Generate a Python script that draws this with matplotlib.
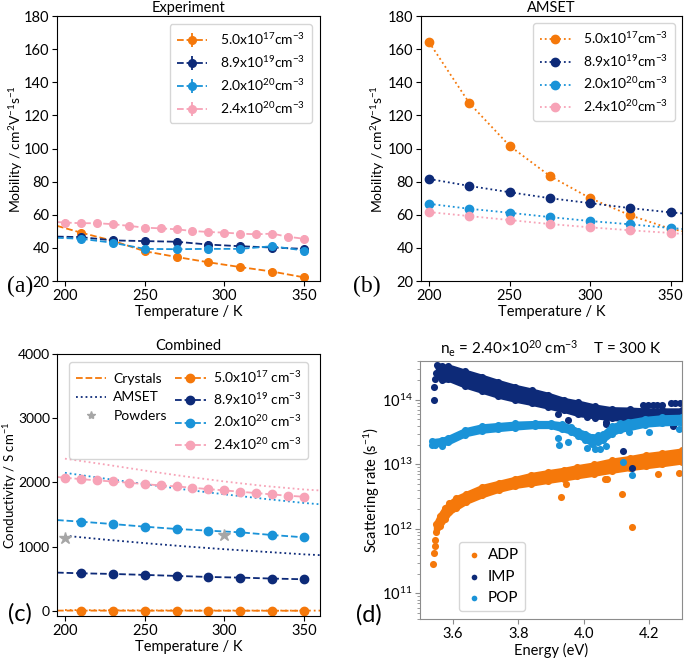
import matplotlib

matplotlib.use("Agg")
import matplotlib.pyplot as plt
from matplotlib.lines import Line2D

plt.rcParams["font.family"] = ["Lato", "DejaVu Sans"]
plt.rcParams["mathtext.fontset"] = "custom"
plt.rcParams["mathtext.rm"] = "Lato"
plt.rcParams["mathtext.it"] = "Lato:italic"
plt.rcParams["font.size"] = 10.5

ORANGE = "#f5780a"
NAVY = "#0d2a78"
LBLUE = "#1a93d8"
PINK = "#f7a3b7"
GREY = "#a6a6a6"

LABELS = ["5.0x10$^{17}$cm$^{-3}$", "8.9x10$^{19}$cm$^{-3}$",
          "2.0x10$^{20}$cm$^{-3}$", "2.4x10$^{20}$cm$^{-3}$"]
LABELS_C = ["5.0x10$^{17}$ cm$^{-3}$", "8.9x10$^{19}$ cm$^{-3}$",
            "2.0x10$^{20}$ cm$^{-3}$", "2.4x10$^{20}$ cm$^{-3}$"]
COLORS = [ORANGE, NAVY, LBLUE, PINK]

# ---- (a) experiment mobility ----
T_line_start = 195
T_exp = [210, 230, 250, 270, 290, 310, 330, 350]
T_exp_pink = [200, 210, 220, 230, 240, 250, 260, 270, 280, 290, 300, 310, 320, 330, 340, 350]
mu_exp_orange = [49.2, 44.3, 38.0, 34.5, 31.3, 28.4, 25.7, 22.2]
mu_exp_navy = [46.5, 44.5, 44.1, 43.7, 42.0, 41.0, 40.2, 39.4]
mu_exp_lblue = [45.5, 43.1, 39.4, 39.2, 39.4, 39.4, 41.0, 38.4]
mu_exp_pink = [55.3, 54.9, 54.9, 54.3, 53.3, 52.2, 51.8, 51.2, 50.2, 49.6, 49.2, 48.6, 48.2, 48.6, 46.7, 45.5]
mu_start = [53.3, 46.8, 46.1, 55.6]
err_orange = [0.6, 0.6, 0.6, 0.6, 0.6, 0.6, 0.6, 0.6]
err_navy = [2.0, 2.0, 2.0, 2.0, 2.0, 2.0, 2.0, 2.0]
err_lblue = [2.2, 2.2, 2.2, 2.2, 2.2, 2.2, 2.2, 2.2]
err_pink = [2.0, 2.0, 2.0, 2.0, 2.0, 2.0, 2.0, 2.0, 2.0, 2.0, 2.0, 2.0, 2.0, 2.0, 2.0, 2.0]

# ---- (b) AMSET mobility ----
T_amset = [200, 225, 250, 275, 300, 325, 350, 360]
mu_am_orange = [164.2, 127.4, 101.6, 83.4, 70.0, 59.6, 51.5, 49.5]
mu_am_navy = [81.6, 77.4, 73.6, 70.0, 67.0, 64.0, 61.4, 60.6]
mu_am_lblue = [66.6, 63.6, 61.2, 58.6, 56.2, 54.2, 52.0, 51.2]
mu_am_pink = [61.6, 59.2, 56.8, 54.4, 52.4, 50.6, 49.0, 48.2]

# ---- (c) conductivity ----
sig_exp_orange = [3.9, 3.5, 3.0, 2.8, 2.5, 2.3, 2.1, 1.8]
sig_exp_navy = [585, 575, 560, 544, 528, 518, 503, 492]
sig_exp_lblue = [1389, 1352, 1311, 1275, 1249, 1223, 1181, 1145]
sig_exp_pink = [2073, 2052, 2031, 2015, 1995, 1974, 1953, 1938, 1917, 1896, 1876, 1855, 1834, 1813, 1793, 1777]
sig_start = [4.2, 596, 1414, 2085]
sig_am_orange = [13, 10, 8, 6.7, 5.6, 4.8, 4.1, 3.9]
sig_am_navy = [1170, 1110, 1055, 1005, 960, 920, 880, 868]
sig_am_lblue = [2150, 2060, 1975, 1890, 1815, 1745, 1680, 1660]
sig_am_pink = [2370, 2280, 2185, 2095, 2015, 1945, 1890, 1875]
T_powder = [200, 300]
sig_powder = [1130, 1185]

# ---- (d) scattering rates, n = 2.4e20, T = 300 K ----
adp_E = [3.548, 3.56, 3.575, 3.59, 3.61, 3.64, 3.69, 3.74, 3.79, 3.84, 3.89, 3.94, 3.98, 4.03, 4.085, 4.14, 4.19, 4.24, 4.30]
adp_lo = [8.9e11, 1.1e12, 1.4e12, 1.8e12, 2.1e12, 2.6e12, 3.3e12, 4.0e12, 4.6e12, 5.0e12, 5.5e12, 6.0e12, 6.5e12, 7.1e12, 7.9e12, 8.7e12, 9.3e12, 1.0e13, 1.1e13]
adp_hi = [1.2e12, 1.6e12, 2.1e12, 2.5e12, 3.0e12, 3.5e12, 4.5e12, 5.2e12, 6.0e12, 6.9e12, 7.6e12, 8.3e12, 9.1e12, 1.0e13, 1.15e13, 1.26e13, 1.4e13, 1.5e13, 1.65e13]
adp_pts_E = [3.541, 3.543, 3.545, 3.546, 3.93, 3.945, 4.065, 4.07, 4.118, 4.148, 4.228, 4.29]
adp_pts = [2.8e11, 4.2e11, 5.5e11, 6.8e11, 3.1e12, 5.0e12, 6.0e12, 5.9e12, 3.5e12, 1.05e12, 7.2e12, 7.4e12]

imp_E = [3.554, 3.566, 3.587, 3.637, 3.688, 3.739, 3.79, 3.841, 3.892, 3.94, 3.983, 4.035, 4.085, 4.14, 4.187, 4.24, 4.30]
imp_lo = [2.6e14, 2.0e14, 2.1e14, 1.66e14, 1.38e14, 1.15e14, 1.0e14, 8.9e13, 7.8e13, 6.9e13, 6.0e13, 5.5e13, 5.2e13, 5.0e13, 4.9e13, 4.8e13, 4.6e13]
imp_hi = [3.3e14, 3.3e14, 3.3e14, 2.75e14, 2.3e14, 1.9e14, 1.6e14, 1.4e14, 1.2e14, 1.0e14, 9.1e13, 7.9e13, 7.2e13, 7.1e13, 6.9e13, 6.9e13, 6.9e13]
imp_pts_E = [3.542, 3.544, 3.546, 3.548, 3.551, 3.92, 3.953, 4.009, 4.034, 4.068, 4.068, 4.119, 4.148, 4.273,
             4.18, 4.195, 4.21, 4.225, 4.24, 4.265, 4.28, 4.295]
imp_pts = [1.0e14, 1.6e14, 2.1e14, 2.6e14, 3.5e14, 6.0e13, 4.9e13, 5.4e13, 5.2e13, 4.6e13, 4.2e13, 1.6e13, 8.9e12, 3.9e13,
           8.3e13, 8.3e13, 8.3e13, 8.3e13, 8.2e13, 8.9e13, 8.9e13, 8.8e13]

pop_E = [3.536, 3.566, 3.587, 3.637, 3.688, 3.739, 3.79, 3.85, 3.90, 3.933, 3.96, 3.983, 4.005, 4.024, 4.045, 4.06, 4.085, 4.11, 4.136, 4.187, 4.24, 4.30]
pop_lo = [2.0e13, 2.1e13, 2.2e13, 2.9e13, 3.3e13, 3.5e13, 3.7e13, 3.9e13, 3.9e13, 3.5e13, 3.2e13, 2.75e13, 2.4e13, 2.1e13, 2.2e13, 2.4e13, 3.0e13, 3.4e13, 3.6e13, 4.1e13, 4.3e13, 4.4e13]
pop_hi = [2.3e13, 2.4e13, 2.6e13, 3.4e13, 3.9e13, 4.1e13, 4.3e13, 4.4e13, 4.4e13, 4.2e13, 3.8e13, 3.3e13, 3.0e13, 2.7e13, 2.8e13, 3.0e13, 3.9e13, 4.3e13, 4.6e13, 5.1e13, 5.4e13, 5.5e13]
pop_pts_E = [3.545, 3.566, 3.922, 3.925, 3.953, 4.009, 4.034, 4.05, 4.068, 4.119, 4.148, 4.137, 4.2, 4.29]
pop_pts = [2.0e13, 1.9e13, 2.6e13, 2.0e13, 2.2e13, 1.8e13, 1.7e13, 1.7e13, 1.9e13, 1.1e13, 6.8e12, 3.2e13, 3.2e13, 3.5e13]


def style_temperature_axis(ax, title, ylabel, label_x, label_size=10):
    ax.set_xlim(195, 360)
    ax.set_xticks([200, 250, 300, 350])
    ax.set_xlabel("Temperature / K", labelpad=2)
    ax.set_ylabel(ylabel, fontsize=label_size)
    ax.yaxis.set_label_coords(label_x, 0.5)
    ax.set_title(title, fontsize=10.5, pad=3)
    ax.tick_params(length=3.5, width=0.8, pad=2)


W, H = 684, 663
fig = plt.figure(figsize=(W / 100, H / 100), dpi=100)
ax_a = fig.add_axes([57 / W, 1 - 281 / H, 263 / W, 265 / H])
ax_b = fig.add_axes([421 / W, 1 - 281 / H, 261 / W, 265 / H])
ax_c = fig.add_axes([57 / W, 1 - 616 / H, 263 / W, 262 / H])
ax_d = fig.add_axes([420 / W, 1 - 619 / H, 262 / W, 258 / H])

MOB_LABEL = "Mobility / cm$^2$V$^{-1}$s$^{-1}$"

# (a)
exp_T = [T_exp, T_exp, T_exp, T_exp_pink]
exp_mu = [mu_exp_orange, mu_exp_navy, mu_exp_lblue, mu_exp_pink]
exp_err = [err_orange, err_navy, err_lblue, err_pink]
for T, mu, err, start, color, label in zip(exp_T, exp_mu, exp_err, mu_start, COLORS, LABELS):
    ax_a.plot([T_line_start, T[0]], [start, mu[0]], "--", color=color, lw=1.3)
    ax_a.errorbar(T, mu, yerr=err, fmt="o", ls="--", color=color, ms=5.5, lw=1.3,
                  elinewidth=1.3, capsize=0, label=label)
ax_a.set_ylim(20, 180)
ax_a.set_yticks(range(20, 181, 20))
style_temperature_axis(ax_a, "Experiment", MOB_LABEL, -0.122)
ax_a.legend(loc="upper right", fontsize=10, handlelength=2.2, borderpad=0.5,
            labelspacing=0.5, handletextpad=0.9, borderaxespad=0.6)

# (b)
am_mu = [mu_am_orange, mu_am_navy, mu_am_lblue, mu_am_pink]
n_pts = len(T_amset) - 1
for mu, color, label in zip(am_mu, COLORS, LABELS):
    ax_b.plot(T_amset, mu, ls=":", lw=1.3, marker="o", ms=6, markevery=slice(0, n_pts),
              color=color, label=label)
ax_b.set_ylim(20, 180)
ax_b.set_yticks(range(20, 181, 20))
style_temperature_axis(ax_b, "AMSET", MOB_LABEL, -0.13)
ax_b.set_xlim(195, 357)
ax_b.legend(loc="upper right", fontsize=10, handlelength=2.2, borderpad=0.5,
            labelspacing=0.5, handletextpad=0.9, borderaxespad=0.5)

# (c)
sig_exp = [sig_exp_orange, sig_exp_navy, sig_exp_lblue, sig_exp_pink]
sig_am = [sig_am_orange, sig_am_navy, sig_am_lblue, sig_am_pink]
handles = []
for T, sig, start, am, color in zip(exp_T, sig_exp, sig_start, sig_am, COLORS):
    ax_c.plot(T_amset, am, ":", color=color, lw=1.3)
    ax_c.plot([T_line_start, T[0]], [start, sig[0]], "--", color=color, lw=1.3)
    h, = ax_c.plot(T, sig, ls="--", marker="o", ms=6, lw=1.3, color=color)
    handles.append(h)
ax_c.plot(T_powder, sig_powder, ls="", marker="*", ms=9, color=GREY, mec=GREY)
ax_c.set_ylim(-80, 4000)
ax_c.set_yticks([0, 1000, 2000, 3000, 4000])
style_temperature_axis(ax_c, "Combined", "Conductivity / S cm$^{-1}$", -0.145, label_size=9.5)
ax_c.tick_params(axis="y", pad=1.5, labelsize=10)
leg_handles = [Line2D([], [], ls="--", color=ORANGE, lw=1.3),
               Line2D([], [], ls=":", color=NAVY, lw=1.3),
               Line2D([], [], ls="", marker="*", ms=6, color=GREY),
               Line2D([], [], ls="", marker="")] + handles
leg_labels = ["Crystals", "AMSET", "Powders", " "] + LABELS_C
ax_c.legend(leg_handles, leg_labels, ncol=2, loc="upper center", fontsize=10,
            handlelength=2.2, borderpad=0.5, labelspacing=0.45, handletextpad=0.5,
            columnspacing=0.6, borderaxespad=0.6)

# (d)
bands = [
    ("ADP", ORANGE, adp_E, adp_lo, adp_hi, adp_pts_E, adp_pts),
    ("IMP", NAVY, imp_E, imp_lo, imp_hi, imp_pts_E, imp_pts),
    ("POP", LBLUE, pop_E, pop_lo, pop_hi, pop_pts_E, pop_pts),
]
for name, color, E, lo, hi, pE, pR in bands:
    ax_d.fill_between(E, lo, hi, color=color, lw=3.5, edgecolor=color, joinstyle="round")
    ax_d.scatter(E + E + pE, lo + hi + pR, s=26, color=color, linewidths=0, label=name)
ax_d.set_yscale("log")
ax_d.set_ylim(4e10, 4e14)
ax_d.set_xlim(3.5, 4.3)
ax_d.set_xticks([3.6, 3.8, 4.0, 4.2])
ax_d.set_xlabel("Energy (eV)", labelpad=2)
ax_d.set_ylabel("Scattering rate (s$^{-1}$)")
ax_d.yaxis.set_label_coords(-0.145, 0.5)
ax_d.set_title("n$_\\mathrm{e}$ = 2.40\u00d710$^{20}$ cm$^{-3}$    T = 300 K", fontsize=11, pad=5)
for side in ax_d.spines.values():
    side.set_color("#8c8c8c")
ax_d.tick_params(which="both", color="#8c8c8c", pad=2)
ax_d.tick_params(which="major", length=3.5)
ax_d.tick_params(which="minor", length=2)
ax_d.legend(loc="lower left", bbox_to_anchor=(0.12, 0.0), fontsize=11, markerscale=0.8,
            handletextpad=0.3, borderpad=0.4, labelspacing=0.5, handlelength=1.2)

# panel letters
fig.text(7 / W, 1 - 286 / H, "(a)", fontsize=17, family="Liberation Serif", va="center")
fig.text(353 / W, 1 - 286 / H, "(b)", fontsize=17, family="Liberation Serif", va="center")
fig.text(8 / W, 1 - 614 / H, "(c)", fontsize=17, va="center")
fig.text(356 / W, 1 - 615 / H, "(d)", fontsize=17, va="center")

fig.savefig("out.png", dpi=100)
